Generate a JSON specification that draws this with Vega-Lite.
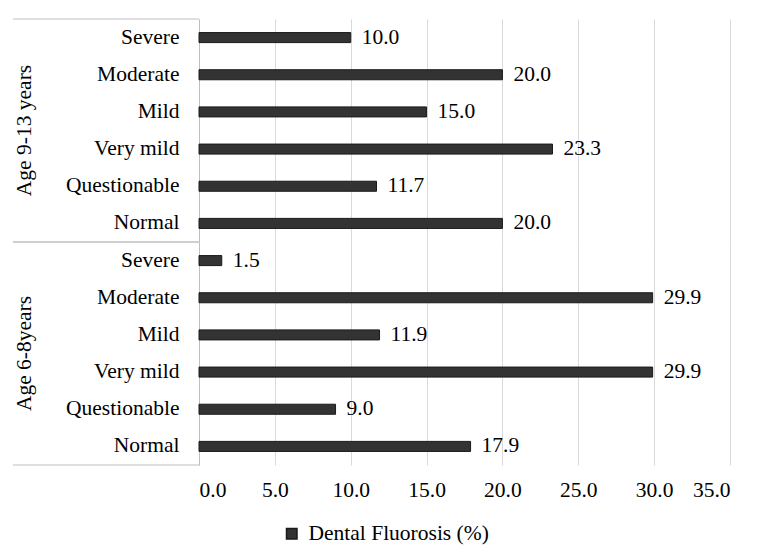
{
  "$schema": "https://vega.github.io/schema/vega-lite/v6.json",
  "padding": {"left": 12, "top": 18, "right": 5, "bottom": 5},
  "bounds": "flush",
  "data": {
    "values": [
      {"age": "Age 9-13 years", "level": "Severe", "pct": 10.0, "series": "Dental Fluorosis (%)"},
      {"age": "Age 9-13 years", "level": "Moderate", "pct": 20.0, "series": "Dental Fluorosis (%)"},
      {"age": "Age 9-13 years", "level": "Mild", "pct": 15.0, "series": "Dental Fluorosis (%)"},
      {"age": "Age 9-13 years", "level": "Very mild", "pct": 23.3, "series": "Dental Fluorosis (%)"},
      {"age": "Age 9-13 years", "level": "Questionable", "pct": 11.7, "series": "Dental Fluorosis (%)"},
      {"age": "Age 9-13 years", "level": "Normal", "pct": 20.0, "series": "Dental Fluorosis (%)"},
      {"age": "Age 6-8years", "level": "Severe", "pct": 1.5, "series": "Dental Fluorosis (%)"},
      {"age": "Age 6-8years", "level": "Moderate", "pct": 29.9, "series": "Dental Fluorosis (%)"},
      {"age": "Age 6-8years", "level": "Mild", "pct": 11.9, "series": "Dental Fluorosis (%)"},
      {"age": "Age 6-8years", "level": "Very mild", "pct": 29.9, "series": "Dental Fluorosis (%)"},
      {"age": "Age 6-8years", "level": "Questionable", "pct": 9.0, "series": "Dental Fluorosis (%)"},
      {"age": "Age 6-8years", "level": "Normal", "pct": 17.9, "series": "Dental Fluorosis (%)"}
    ]
  },
  "facet": {
    "row": {
      "field": "age",
      "type": "nominal",
      "sort": ["Age 9-13 years", "Age 6-8years"],
      "header": {
        "title": null,
        "labelAngle": -90,
        "labelOrient": "left",
        "labelFont": "Liberation Serif",
        "labelFontSize": 21.5,
        "labelColor": "#000000",
        "labelPadding": 153
      }
    }
  },
  "spacing": {"row": 0, "column": 0},
  "resolve": {"scale": {"y": "independent"}},
  "spec": {
    "width": 531,
    "height": 223,
    "encoding": {
      "y": {
        "field": "level",
        "type": "nominal",
        "sort": ["Severe", "Moderate", "Mild", "Very mild", "Questionable", "Normal"],
        "scale": {"paddingInner": 0, "paddingOuter": 0},
        "axis": {
          "title": null,
          "domainColor": "#bfbfbf",
          "ticks": false,
          "labelPadding": 20,
          "labelFont": "Liberation Serif",
          "labelFontSize": 21.5,
          "labelColor": "#000000"
        }
      },
      "x": {
        "field": "pct",
        "type": "quantitative",
        "scale": {"domain": [0, 35], "nice": false},
        "axis": {
          "title": null,
          "values": [0, 5, 10, 15, 20, 25, 30, 35],
          "format": ".1f",
          "domain": false,
          "ticks": false,
          "gridColor": "#d9d9d9",
          "labelFont": "Liberation Serif",
          "labelFontSize": 21.5,
          "labelColor": "#000000",
          "labelPadding": 14
        }
      }
    },
    "layer": [
      {
        "mark": {"type": "bar", "height": {"band": 0.27}, "stroke": "#1a1a1a", "strokeWidth": 1},
        "encoding": {
          "color": {
            "field": "series",
            "type": "nominal",
            "scale": {"range": ["#333333"]},
            "legend": {
              "orient": "none",
              "legendX": 82,
              "legendY": 504,
              "padding": 0,
              "title": null,
              "symbolType": "square",
              "symbolSize": 110,
              "symbolStrokeColor": "#1a1a1a",
              "labelOffset": 6,
              "labelFont": "Liberation Serif",
              "labelFontSize": 21.5,
              "labelLimit": 400,
              "labelColor": "#000000"
            }
          }
        }
      },
      {
        "mark": {"type": "text", "align": "left", "baseline": "middle", "dx": 11, "font": "Liberation Serif", "fontSize": 21.5, "color": "#000000"},
        "encoding": {"text": {"field": "pct", "type": "quantitative", "format": ".1f"}}
      },
      {
        "transform": [{"filter": "datum.level === 'Severe'"}],
        "mark": {"type": "rule", "color": "#bfbfbf", "strokeWidth": 1},
        "encoding": {
          "y": {"field": "level", "type": "nominal", "sort": ["Severe", "Moderate", "Mild", "Very mild", "Questionable", "Normal"], "bandPosition": 0},
          "x": {"datum": -12.26},
          "x2": {"datum": 0}
        }
      },
      {
        "transform": [{"filter": "datum.level === 'Normal'"}],
        "mark": {"type": "rule", "color": "#bfbfbf", "strokeWidth": 1},
        "encoding": {
          "y": {"field": "level", "type": "nominal", "sort": ["Severe", "Moderate", "Mild", "Very mild", "Questionable", "Normal"], "bandPosition": 1},
          "x": {"datum": -12.26},
          "x2": {"datum": 0}
        }
      }
    ]
  },
  "config": {
    "background": "#ffffff",
    "font": "Liberation Serif",
    "view": {"stroke": null}
  }
}
